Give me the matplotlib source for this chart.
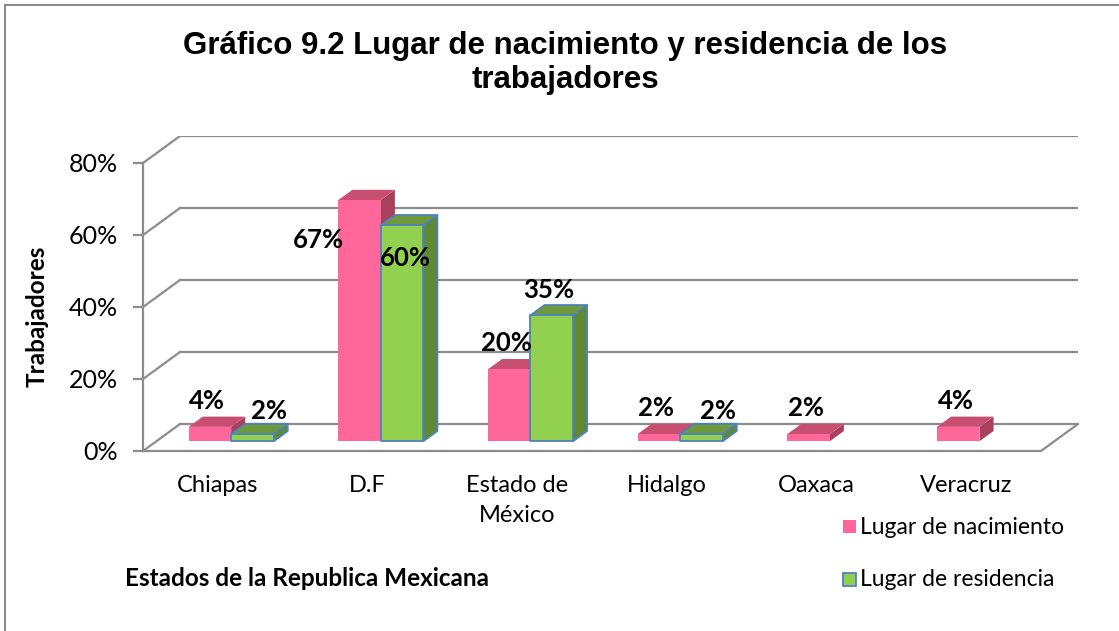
import matplotlib.pyplot as plt
from matplotlib.patches import Polygon, Rectangle

# Chart data
estados = ['Chiapas', 'D.F', 'Estado de\nMéxico', 'Hidalgo', 'Oaxaca', 'Veracruz']
nacimiento = [4, 67, 20, 2, 2, 4]
residencia = [2, 60, 35, 2, 0, 0]
y_ticks = [0, 20, 40, 60, 80]

# 3D look: depth offset in data units (oblique projection)
DX, DY = 0.2475, 7.5
Z0, Z1 = 0.36, 0.74
BAR_W = 0.284
GRID = '#8c8c8c'
FONT = 'Lato'

pink = ('#ff6699', '#c84f72', '#a8405e')
green = ('#92d050', '#6f9a3c', '#5e8a33')

# label placement (offset from category centre, offset above value)
lab_nac = {'default': (-0.07, 10.0), 1: (-0.33, -8.4)}
lab_res = {'default': (0.34, 9.0), 1: (0.25, -6.4), 2: (0.21, 9.7)}

fig = plt.figure(figsize=(11.19, 6.31), dpi=100)
ax = fig.add_axes([143 / 1119, 180 / 631, 935 / 1119, 315 / 631])
ax.set_xlim(-0.5, 5.5 + DX)
ax.set_ylim(0, 80 + DY)
for s in ['top', 'right', 'bottom']:
    ax.spines[s].set_visible(False)
ax.spines['left'].set_bounds(0, 80)
ax.spines['left'].set_color(GRID)
ax.spines['left'].set_linewidth(1.6)
ax.set_yticks(y_ticks)
ax.set_yticklabels([f'{v}%' for v in y_ticks], fontsize=18, family=FONT)
ax.tick_params(axis='y', length=7, width=1.6, color=GRID, pad=11)
ax.set_xticks([])


def proj(x, y, z):
    return (x + z * DX, y + z * DY)


# back wall gridlines and side diagonals
for v in y_ticks:
    ax.plot([-0.5 + DX, 5.5 + DX], [v + DY, v + DY], color=GRID, lw=1.6, zorder=1)
    ax.plot([-0.5, -0.5 + DX], [v, v + DY], color=GRID, lw=1.6, zorder=1)
# floor
ax.plot([-0.5, 5.5, 5.5 + DX], [0, 0, DY], color=GRID, lw=1.6, zorder=1, clip_on=False)


def bar3d(x0, h, cols, edge=None):
    x1 = x0 + BAR_W
    front = [proj(x0, 0, Z0), proj(x1, 0, Z0), proj(x1, h, Z0), proj(x0, h, Z0)]
    top = [proj(x0, h, Z0), proj(x1, h, Z0), proj(x1, h, Z1), proj(x0, h, Z1)]
    side = [proj(x1, 0, Z0), proj(x1, 0, Z1), proj(x1, h, Z1), proj(x1, h, Z0)]
    ec = edge if edge else 'none'
    for pts, c in ((side, cols[2]), (top, cols[1]), (front, cols[0])):
        ax.add_patch(Polygon(pts, closed=True, facecolor=c, edgecolor=ec,
                             lw=1.3, zorder=3, joinstyle='round'))


for i in range(len(estados)):
    if nacimiento[i] > 0:
        bar3d(i - BAR_W, nacimiento[i], pink)
    if residencia[i] > 0:
        bar3d(i, residencia[i], green, edge='#4f81bd')

# data labels
lab_kw = dict(fontsize=18.5, fontweight='bold', family=FONT, ha='center', va='center', zorder=5)
for i in range(len(estados)):
    for vals, offs in ((nacimiento, lab_nac), (residencia, lab_res)):
        v = vals[i]
        if v > 0:
            dx, dy = offs.get(i, offs['default'])
            ax.text(i + dx, v + dy, f'{v}%', **lab_kw)

# category labels
for i, name in enumerate(estados):
    ax.text(i, -6.8, name, ha='center', va='top', fontsize=17, family=FONT,
            linespacing=1.5)

# title and axis titles
fig.text(0.505, 1 - 63 / 631, 'Gráfico 9.2 Lugar de nacimiento y residencia de los\ntrabajadores',
         ha='center', va='center', fontsize=22.5, fontweight='bold',
         family='Liberation Sans', linespacing=1.2)
fig.text(37 / 1119, 1 - 316 / 631, 'Trabajadores', rotation=90, ha='center', va='center',
         fontsize=17.5, fontweight='bold', family=FONT)
fig.text(307 / 1119, 1 - 578 / 631, 'Estados de la Republica Mexicana', ha='center',
         va='center', fontsize=17.5, fontweight='bold', family=FONT)

# legend
fig.patches.append(Rectangle((843 / 1119, 1 - 533 / 631), 13 / 1119, 13 / 631,
                             transform=fig.transFigure, facecolor=pink[0], edgecolor='none'))
fig.patches.append(Rectangle((843 / 1119, 1 - 586 / 631), 13 / 1119, 13 / 631,
                             transform=fig.transFigure, facecolor=green[0],
                             edgecolor='#4f81bd', lw=1.3))
fig.text(860 / 1119, 1 - 527 / 631, 'Lugar de nacimiento', ha='left', va='center',
         fontsize=16.5, family=FONT)
fig.text(860 / 1119, 1 - 580 / 631, 'Lugar de residencia', ha='left', va='center',
         fontsize=16.5, family=FONT)

# chart border (right and bottom sides fall outside the picture)
fig.patches.append(Rectangle((5 / 1119, -0.05), 1.1, 1 - 5 / 631 + 0.05,
                             transform=fig.transFigure, facecolor='none',
                             edgecolor='#8c8c8c', lw=1.5))

fig.savefig('out.png', dpi=100)
